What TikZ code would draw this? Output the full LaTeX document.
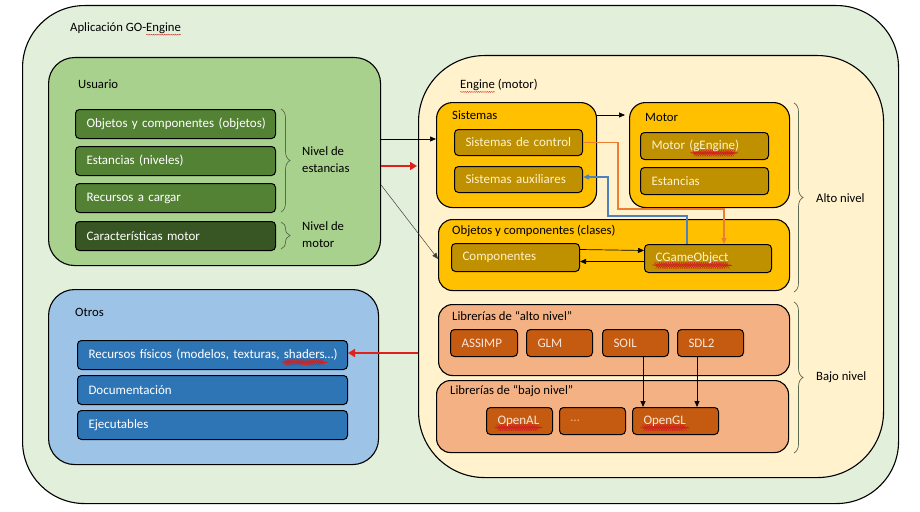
\documentclass[tikz,border=0pt]{standalone}
\usepackage{fontspec}
\setmainfont{Carlito}
\usetikzlibrary{arrows.meta,decorations.pathreplacing,decorations.pathmorphing,calc}
\definecolor{outerbg}{HTML}{E2EFDA}
\definecolor{usrbg}{HTML}{A9D18E}
\definecolor{grn}{HTML}{548235}
\definecolor{dgrn}{HTML}{375623}
\definecolor{otrbg}{HTML}{9DC3E6}
\definecolor{blu}{HTML}{2E75B6}
\definecolor{engbg}{HTML}{FFF2CC}
\definecolor{gold}{HTML}{FFC000}
\definecolor{dgold}{HTML}{BF9000}
\definecolor{peach}{HTML}{F4B183}
\definecolor{rust}{HTML}{C55A11}
\definecolor{lpeach}{HTML}{FBE5D6}
\definecolor{orng}{HTML}{ED7D31}
\definecolor{stblue}{HTML}{4F81BD}
\definecolor{redar}{HTML}{E0201B}
\definecolor{bracec}{HTML}{5A6A50}
\definecolor{spellred}{HTML}{D02020}
\newsavebox\spellbox
\newcommand\spellw[1]{\sbox\spellbox{#1}\rlap{\tikz[overlay]\draw[spellred, line width=0.35pt, decorate, decoration={snake, amplitude=0.5pt, segment length=2.2pt}] (0pt,-3.4pt) -- (\wd\spellbox,-3.4pt);}\usebox\spellbox}
\begin{document}
\begin{tikzpicture}[x=1pt,y=-1pt,
  cont/.style={draw=black, line width=1.1pt, anchor=north west, inner sep=0pt},
  ttl/.style={anchor=west, inner sep=0pt, font=\fontsize{12.7}{15}\selectfont, text=black},
  bx/.code 2 args={\pgfmathsetmacro\tw{#1-22}\edef\tmp{\noexpand\tikzset{minimum width=#1pt, minimum height=#2pt, text width=\tw pt}}\tmp},
  itm/.style={draw=black, line width=1pt, rounded corners=4pt, anchor=north west, inner xsep=9.5pt, inner ysep=0pt, align=left, font=\fontsize{13}{15}\selectfont,
    execute at begin node={\leavevmode\hbox\bgroup}, execute at end node={\egroup}},
  gitm/.style={itm, fill=grn, text=white},
  bitm/.style={itm, fill=blu, text=white},
  yitm/.style={itm, fill=dgold, text=engbg},
  oitm/.style={itm, fill=rust, text=lpeach},
  brc/.style={draw=bracec, line width=0.7pt, decorate, decoration={brace, amplitude=9pt}},
  blab/.style={anchor=west, inner sep=0pt, align=left, font=\fontsize{12.7}{17}\selectfont},
  arr/.style={-{Triangle[length=6pt,width=5pt]}, line width=0.7pt, draw=black},
  rarr/.style={-{Triangle[length=7pt,width=8pt]}, line width=2.4pt, draw=redar},
]
\useasboundingbox (0,0) rectangle (920,511);
\fill[white] (0,0) rectangle (920,511);

% outer
\node[cont, fill=outerbg, rounded corners=62pt, minimum width=876pt, minimum height=498pt] (app) at (22,5) {};
\node[ttl] (apptitle) at (70,28) {Aplicación GO-\spellw{Engine}};

% Usuario
\node[cont, fill=usrbg, rounded corners=26pt, minimum width=332pt, minimum height=208pt] (usuario) at (48,57) {};
\node[ttl] (usrtitle) at (78,84) {Usuario};
\node[gitm, bx={200}{29}] (o1) at (75,109) {Objetos y componentes (objetos)};
\node[gitm, bx={200}{29}] (o2) at (75,146) {Estancias (niveles)};
\node[gitm, bx={200}{29}] (o3) at (75,183) {Recursos a cargar};
\node[itm, fill=dgrn, text=white, bx={200}{29}] (o4) at (75,221) {Características motor};
\coordinate (b1a) at (281,109);
\coordinate (b1b) at (281,212);
\draw[brc] (b1a) -- (b1b);
\node[blab] (niv1) at (302,160) {Nivel de\\estancias};
\coordinate (b2a) at (281,222);
\coordinate (b2b) at (281,249);
\draw[brc] (b2a) -- (b2b);
\node[blab] (niv2) at (302,235) {Nivel de\\motor};

% Otros
\node[cont, fill=otrbg, rounded corners=26pt, minimum width=330pt, minimum height=175pt] (otros) at (48,289) {};
\node[ttl] (otrtitle) at (75,312) {Otros};
\node[bitm, bx={270}{29}] (rf) at (77,340) {Recursos físicos (modelos, texturas, \spellw{shaders}…)};
\node[bitm, bx={270}{29}] (doc) at (77,375) {Documentación};
\node[bitm, bx={270}{29}] (eje) at (77,410) {Ejecutables};

% Engine
\node[cont, fill=engbg, rounded corners=66pt, minimum width=465pt, minimum height=422pt] (engine) at (418,55) {};
\node[ttl] (engtitle) at (460,85) {\spellw{Engine} (motor)};

\node[cont, fill=gold, rounded corners=16pt, minimum width=160pt, minimum height=105pt] (sistemas) at (436,102) {};
\node[ttl] (sistitle) at (452,115) {Sistemas};
\node[yitm, bx={128}{26}] (sc) at (454,129) {Sistemas de control};
\node[yitm, bx={128}{26}] (sa) at (454,166) {Sistemas auxiliares};

\node[cont, fill=gold, rounded corners=16pt, minimum width=160pt, minimum height=105pt] (motor) at (629,102) {};
\node[ttl] (mottitle) at (645,117) {Motor};
\node[yitm, bx={128}{27}] (mg) at (640,132) {Motor (\spellw{gEngine})};
\node[yitm, bx={128}{27}] (me) at (640,167) {Estancias};

\node[cont, fill=gold, rounded corners=14pt, minimum width=351pt, minimum height=71pt] (objetos) at (438,219) {};
\node[ttl] (objtitle) at (452,231) {Objetos y componentes (clases)};
\node[yitm, bx={128}{28}] (comp) at (451,243) {Componentes};
\node[yitm, bx={127}{28}] (cgo) at (644,244) {\spellw{CGameObject}};

\node[cont, fill=peach, rounded corners=14pt, minimum width=351pt, minimum height=71pt] (libalto) at (438,304) {};
\node[ttl] (latitle) at (452,316) {Librerías de “alto nivel”};
\node[oitm, bx={67}{27}] (assimp) at (450,329) {ASSIMP};
\node[oitm, bx={66}{27}] (glm) at (526,329) {GLM};
\node[oitm, bx={66}{27}] (soil) at (602,329) {SOIL};
\node[oitm, bx={66}{27}] (sdl) at (677,329) {SDL2};

\node[cont, fill=peach, rounded corners=14pt, minimum width=352pt, minimum height=72pt] (libbajo) at (436,380) {};
\node[ttl] (lbtitle) at (450,391) {Librerías de “bajo nivel”};
\node[oitm, bx={66}{27}] (openal) at (486,407) {\spellw{OpenAL}};
\node[oitm, bx={66}{27}, text=peach] (dots) at (559,407) {…};
\node[oitm, bx={86}{27}] (opengl) at (632,407) {\spellw{OpenGL}};

% braces right
\coordinate (b3a) at (794,103);
\coordinate (b3b) at (794,292);
\draw[brc] (b3a) -- (b3b);
\node[blab] (alto) at (816,198) {Alto nivel};
\coordinate (b4a) at (794,302);
\coordinate (b4b) at (794,453);
\draw[brc] (b4a) -- (b4b);
\node[blab] (bajo) at (816,377) {Bajo nivel};

% connectors
\coordinate (ya) at (0,139);
\coordinate (yb) at (0,166);
\coordinate (yc) at (0,185);
\coordinate (yd) at (0,259);
\coordinate (ye) at (0,115);
\coordinate (yf) at (0,353);
\draw[arr] (usuario.east |- ya) -- (sistemas.west |- ya);
\draw[rarr] (usuario.east |- yb) -- ([xshift=-1pt]engine.west |- yb);
\draw[arr, line width=0.5pt, draw=black!75] (usuario.east |- yc) -- (objetos.west |- yd);
\draw[arr] (sistemas.east |- ye) -- ([xshift=-4pt]motor.west |- ye);
\draw[arr] ([yshift=8pt]comp.east) -- ([yshift=8pt]cgo.west);
\draw[arr] ([yshift=-3pt]cgo.west) -- ([yshift=-4pt]comp.east);
\coordinate (oa) at (618,209);
\coordinate (ob) at (724,209);
\draw[-{Triangle[length=6pt,width=5pt]}, line width=1.2pt, draw=orng] (sc.east) -| (oa) -- (ob) -- (cgo.north -| ob);
\coordinate (ba) at (687,216);
\coordinate (bb) at (608,216);
\coordinate (bc) at (608,177);
\draw[-{Triangle[length=6pt,width=5pt]}, line width=1.2pt, draw=stblue] (cgo.north -| ba) -- (ba) -- (bb) -- (bc) -- (sa.east |- bc);
\draw[rarr] (engine.west |- yf) -- (rf.east |- yf);
\draw[arr, line width=1pt] ([xshift=41pt]soil.south west) -- ([xshift=11pt]opengl.north west);
\draw[arr, line width=1pt] ([xshift=20pt]sdl.south west) -- ([xshift=65pt]opengl.north west);
\end{tikzpicture}
\end{document}
